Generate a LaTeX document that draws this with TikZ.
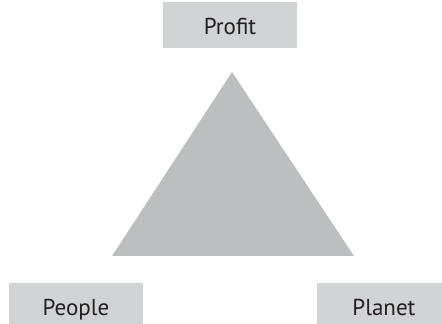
\documentclass[tikz,border=0pt]{standalone}
\usepackage{fontspec}
\setmainfont{PT Sans}
\definecolor{boxgray}{HTML}{D1D3D4}
\definecolor{trigray}{HTML}{BCBEC0}
\definecolor{inkgray}{HTML}{231F20}
\tikzset{
    pillar/.style={fill=boxgray, text=inkgray, minimum width=134pt, minimum height=46pt,
        text height=20pt, text depth=0pt, inner sep=0pt, font=\fontsize{23}{26}\selectfont}
}

\begin{document}
\begin{tikzpicture}[x=1pt, y=1pt]
    % Frame
    \useasboundingbox (0, 0) rectangle (442, 324);
    \clip (0, 0) rectangle (442, 324);

    % Triangle
    \coordinate (top) at (232, 252);
    \coordinate (left) at (112, 68);
    \coordinate (right) at (354, 68);
    \fill[trigray] (top) -- (left) -- (right) -- cycle;

    % Three pillars
    \node[pillar] (profit) at (230, 299) {Profit};
    \node[pillar] (people) at (76, 18) {People};
    \node[pillar] (planet) at (384, 18) {Planet};
\end{tikzpicture}
\end{document}
